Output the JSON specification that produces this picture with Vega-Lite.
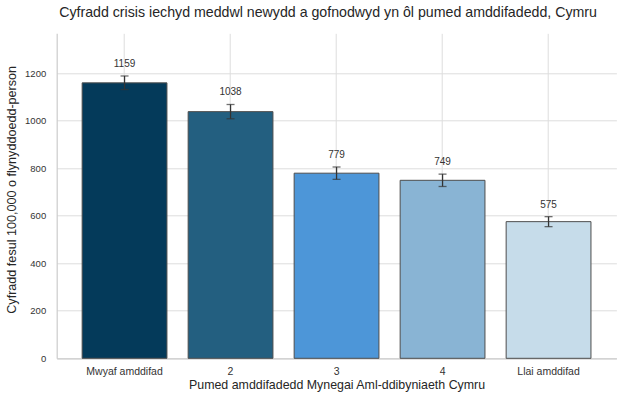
{
  "$schema": "https://vega.github.io/schema/vega-lite/v6.json",
  "width": 559.7,
  "height": 325,
  "autosize": "none",
  "padding": {"left": 56.7, "top": 33.3, "right": 7.6, "bottom": 42.7},
  "background": "white",
  "title": {
    "text": "Cyfradd crisis iechyd meddwl newydd a gofnodwyd yn ôl pumed amddifadedd, Cymru",
    "font": "Liberation Sans",
    "fontSize": 14.2,
    "fontWeight": "normal",
    "color": "#262626",
    "offset": 13,
    "dx": -8.5
  },
  "data": {
    "values": [
      {"cwintel": "Mwyaf amddifad", "cyfradd": 1159, "isaf": 1131, "uchaf": 1188},
      {"cwintel": "2", "cyfradd": 1038, "isaf": 1008, "uchaf": 1068},
      {"cwintel": "3", "cyfradd": 779, "isaf": 753, "uchaf": 805},
      {"cwintel": "4", "cyfradd": 749, "isaf": 723, "uchaf": 775},
      {"cwintel": "Llai amddifad", "cyfradd": 575, "isaf": 554, "uchaf": 596}
    ]
  },
  "encoding": {
    "x": {
      "field": "cwintel",
      "type": "nominal",
      "sort": null,
      "scale": {"paddingInner": 0.2, "paddingOuter": 0.24},
      "title": "Pumed amddifadedd Mynegai Aml-ddibyniaeth Cymru",
      "axis": {
        "labelAngle": 0,
        "bandPosition": 0.5,
        "ticks": false,
        "labelPadding": 8,
        "labelFontSize": 10.5,
        "titlePadding": 2,
        "titleFontSize": 12.4
      }
    }
  },
  "layer": [
    {
      "mark": {"type": "bar", "stroke": "#4d4d4d", "strokeWidth": 1},
      "encoding": {
        "y": {
          "field": "cyfradd",
          "type": "quantitative",
          "scale": {"domain": [0, 1367.6], "nice": false},
          "title": "Cyfradd fesul 100,000 o flynyddoedd-person",
          "axis": {
            "values": [0, 200, 400, 600, 800, 1000, 1200],
            "format": "d",
            "ticks": false,
            "labelPadding": 11,
            "labelFontSize": 9.5,
            "titlePadding": 6,
            "titleY": 156,
            "titleFontSize": 12.6
          }
        },
        "color": {
          "field": "cwintel",
          "type": "nominal",
          "sort": null,
          "scale": {
            "domain": ["Mwyaf amddifad", "2", "3", "4", "Llai amddifad"],
            "range": ["#043a5a", "#235f80", "#4d96d8", "#89b4d4", "#c6dcea"]
          },
          "legend": null
        }
      }
    },
    {
      "mark": {"type": "rule", "color": "#333333", "strokeWidth": 1.3},
      "encoding": {
        "y": {"field": "isaf", "type": "quantitative"},
        "y2": {"field": "uchaf"}
      }
    },
    {
      "mark": {"type": "tick", "color": "#333333", "size": 8, "thickness": 1.3},
      "encoding": {"y": {"field": "isaf", "type": "quantitative"}}
    },
    {
      "mark": {"type": "tick", "color": "#333333", "size": 8, "thickness": 1.3},
      "encoding": {"y": {"field": "uchaf", "type": "quantitative"}}
    },
    {
      "mark": {
        "type": "text",
        "baseline": "middle",
        "dy": -12,
        "fontSize": 10,
        "font": "Liberation Sans",
        "color": "#333333"
      },
      "encoding": {
        "y": {"field": "uchaf", "type": "quantitative"},
        "text": {"field": "cyfradd", "type": "quantitative"}
      }
    }
  ],
  "config": {
    "font": "Liberation Sans",
    "view": {"stroke": null},
    "axis": {
      "grid": true,
      "gridColor": "#dddddd",
      "gridWidth": 1,
      "domainColor": "#cccccc",
      "domainWidth": 1.2,
      "labelColor": "#333333",
      "titleColor": "#262626",
      "labelFont": "Liberation Sans",
      "titleFont": "Liberation Sans",
      "titleFontWeight": "normal"
    }
  }
}
